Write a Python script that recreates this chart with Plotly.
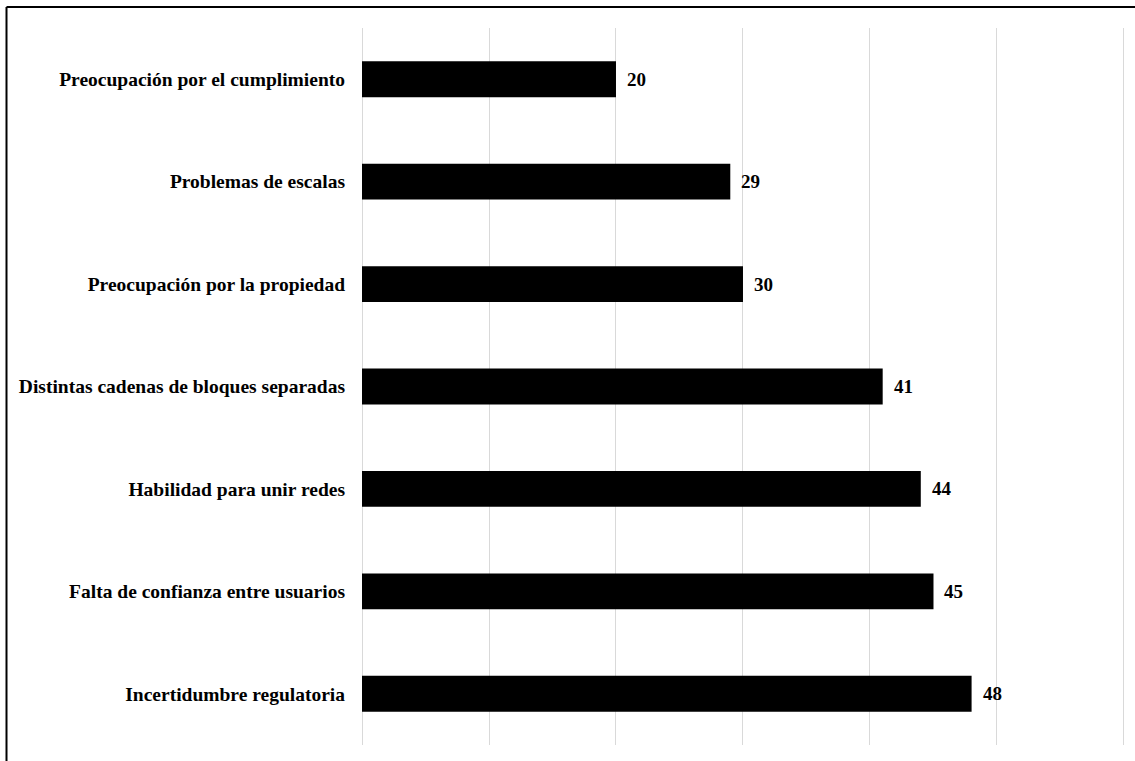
import plotly.graph_objects as go

categories = [
    "Preocupación por el cumplimiento",
    "Problemas de escalas",
    "Preocupación por la propiedad",
    "Distintas cadenas de bloques separadas",
    "Habilidad para unir redes",
    "Falta de confianza entre usuarios",
    "Incertidumbre regulatoria",
]
values = [20, 29, 30, 41, 44, 45, 48]

FONT = "Liberation Serif"

fig = go.Figure(
    go.Bar(
        x=values,
        y=categories,
        orientation="h",
        marker=dict(color="black", line=dict(width=0)),
        width=0.35,
        cliponaxis=False,
    )
)

for v, c in zip(values, categories):
    fig.add_annotation(
        x=v, y=c, xref="x", yref="y",
        text=f"<b>{v}</b>", showarrow=False,
        xanchor="left", xshift=9,
        font=dict(family=FONT, size=19, color="black"),
    )

fig.update_layout(
    width=1135,
    height=761,
    margin=dict(l=362, r=10, t=28, b=16),
    plot_bgcolor="white",
    paper_bgcolor="white",
    showlegend=False,
    xaxis=dict(
        range=[0, 60.08],
        tickvals=[0, 10, 20, 30, 40, 50, 60],
        showgrid=True,
        gridcolor="#d9d9d9",
        gridwidth=1,
        showticklabels=False,
        zeroline=True,
        zerolinecolor="#d9d9d9",
        zerolinewidth=1,
        showline=False,
        ticks="",
    ),
    yaxis=dict(
        autorange="reversed",
        showgrid=False,
        zeroline=False,
        showline=False,
        ticks="",
        ticklabelstandoff=16,
        tickfont=dict(family=FONT, size=19.5, color="black", weight="bold"),
    ),
    shapes=[
        dict(type="line", xref="paper", yref="paper",
             x0=(6.5 - 362) / 763, x1=(1135 - 362) / 763,
             y0=(745 - 7) / 717, y1=(745 - 7) / 717,
             line=dict(color="black", width=2)),
        dict(type="line", xref="paper", yref="paper",
             x0=(6.5 - 362) / 763, x1=(6.5 - 362) / 763,
             y0=(745 - 7) / 717, y1=(745 - 761) / 717,
             line=dict(color="black", width=2)),
    ],
)

fig.write_html("out.html")
